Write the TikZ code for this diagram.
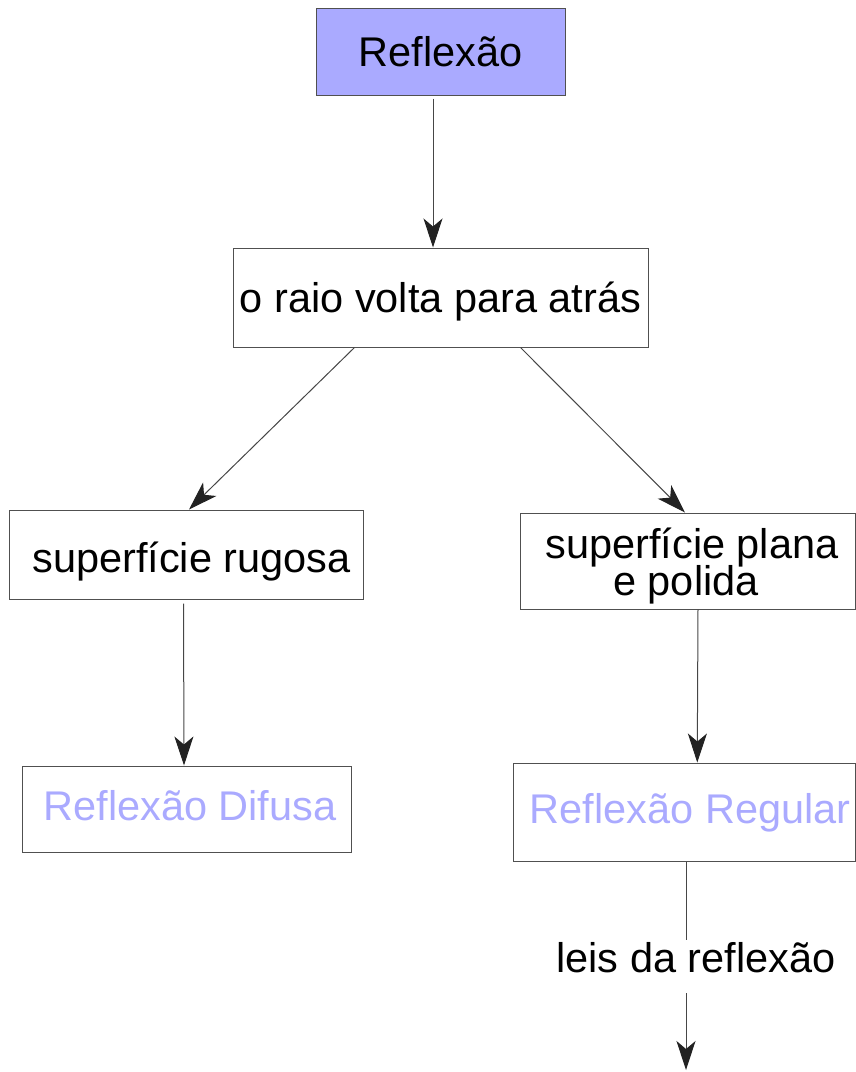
\documentclass[tikz,border=0pt]{standalone}
\usepackage{fontspec}
\setmainfont{Liberation Sans}
\usetikzlibrary{arrows.meta,calc}
\definecolor{lav}{RGB}{170,170,255}
\definecolor{bord}{RGB}{80,80,80}
\definecolor{lin}{RGB}{70,70,70}
\definecolor{tipc}{RGB}{34,34,34}
\begin{document}
\begin{tikzpicture}[x=1pt,y=-1pt,
  box/.style={draw=bord, line width=1pt, inner sep=0pt, font=\fontsize{41.5}{49}\selectfont, text depth=0pt},
  txt/.style={inner sep=0pt, font=\fontsize{41.5}{49}\selectfont},
  conn/.style={draw=lin, line width=1pt, -{Stealth[length=29pt,width=19pt,inset=8pt,color=tipc]}},
  plain/.style={draw=lin, line width=1pt}]
\useasboundingbox (0,0) rectangle (856,1072);

\node[box, fill=lav, minimum width=249pt, minimum height=87pt, text height=30pt] (b1) at (440.5,51.5) {Reflexão};
\node[box, minimum width=415pt, minimum height=99pt, text height=29pt] (b2) at (440.5,297.5) {o raio volta para atrás};
\node[box, minimum width=354pt, minimum height=89pt, text height=35pt] (b3) at (186,554.5) {\hspace{11pt}superfície rugosa};
\node[box, minimum width=335pt, minimum height=96pt] (b4) at (688,561) {};
\node[txt, anchor=base] (t4a) at (692,558) {superfície plana};
\node[txt, anchor=base] (t4b) at (686,595) {e polida};
\node[box, text=lav, minimum width=329pt, minimum height=86pt, text height=22pt] (b5) at (186.5,809) {\hspace{7pt}Reflexão Difusa};
\node[box, text=lav, minimum width=342pt, minimum height=98pt, text height=22pt] (b6) at (684.25,812) {\hspace{12pt}Reflexão Regular};
\node[txt, text height=32pt, text depth=21pt] (leis) at (686,966.5) {\hspace{20pt}leis da reflexão};
\coordinate (end) at (686,1070);

\draw[conn, shorten <=3pt] ([xshift=-7.5pt]b1.south) -- ([xshift=-7.5pt]b2.north);
\draw[conn] ([xshift=122pt]b2.south west) -- ([xshift=3pt]b3.north);
\draw[conn] ([xshift=-128pt]b2.south east) -- ([xshift=-3pt]b4.north);
\draw[conn, shorten <=4pt] ([xshift=-2.5pt]b3.south) -- ([xshift=-2.5pt]b5.north);
\draw[conn] ([xshift=10pt]b4.south) -- ([xshift=13pt]b6.north);
\draw[plain] (leis.north |- b6.south) -- (leis.north);
\draw[conn] (leis.south) -- (end);
\end{tikzpicture}
\end{document}
